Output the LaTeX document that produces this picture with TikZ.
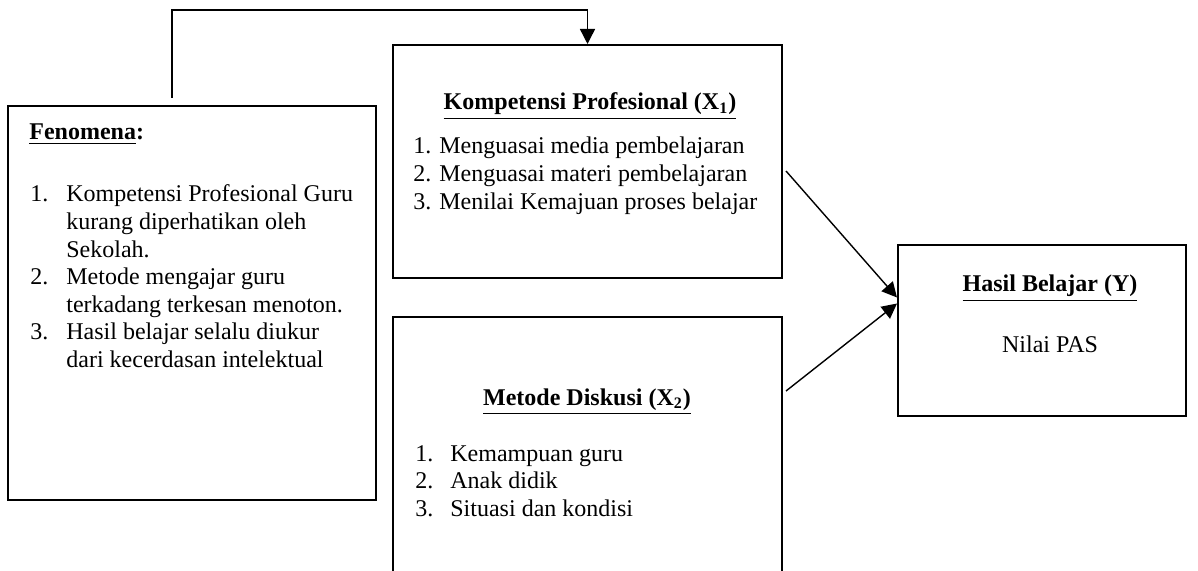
\documentclass[tikz,border=0pt]{standalone}
\usepackage{fontspec}
\setmainfont{Liberation Serif}
\usetikzlibrary{arrows.meta,calc}
\begin{document}
\begin{tikzpicture}[x=0.5pt,y=-0.5pt,
  box/.style={draw,line width=1pt,inner sep=0pt,rectangle},
  conn/.style={line width=0.7pt},
  tipA/.style={-{Triangle[length=7.5pt,width=7.5pt]}},
  txt/.style={inner sep=0pt,font=\fontsize{12}{13.8}\selectfont}]
\clip (0,0) rectangle (1198,571);
% boxes
\node[box,minimum width=184pt,minimum height=197pt] (fen) at (192,303) {};
\node[box,minimum width=194.5pt,minimum height=116.5pt] (komp) at (587.5,161.5) {};
\node[box,minimum width=194.5pt,minimum height=141.5pt] (met) at (587.5,458.5) {};
\node[box,minimum width=144pt,minimum height=85.5pt] (has) at (1042,330.5) {};
% texts: Fenomena
\node[txt,anchor=base west] (fent) at (29,140) {\underline{\textbf{Fenomena}}\textbf{:}};
\node[txt,anchor=base west] (fenl) at (30,202) {\begin{tabular}[t]{@{}p{18pt}@{}l@{}}
1. & Kompetensi Profesional Guru\\
   & kurang diperhatikan oleh\\
   & Sekolah.\\
2. & Metode mengajar guru\\
   & terkadang terkesan menoton.\\
3. & Hasil belajar selalu diukur\\
   & dari kecerdasan intelektual
\end{tabular}};
% Kompetensi
\node[txt,anchor=base] (kt) at (590,110) {\underline{\textbf{Kompetensi Profesional (X\textsubscript{1})}}};
\node[txt,anchor=base west] (kl) at (413,154) {\begin{tabular}[t]{@{}l@{}}
1. Menguasai media pembelajaran\\
2. Menguasai materi pembelajaran\\
3. Menilai Kemajuan proses belajar
\end{tabular}};
% Metode
\node[txt,anchor=base] (mt) at (587,405) {\underline{\textbf{Metode Diskusi (X\textsubscript{2})}}};
\node[txt,anchor=base west] (ml) at (415,461) {\begin{tabular}[t]{@{}p{17.5pt}@{}l@{}}
1. & Kemampuan guru\\
2. & Anak didik\\
3. & Situasi dan kondisi
\end{tabular}};
% Hasil
\node[txt,anchor=base] (ht) at (1050,292) {\underline{\textbf{Hasil Belajar (Y)}}};
\node[txt,anchor=base] (hn) at (1050,352) {Nilai PAS};
% connectors
\coordinate (s) at (172,98);
\coordinate (turn) at (172,10);
\draw[conn,tipA] (s) -- (turn) -| (komp.north);
\coordinate (ks) at ($(komp.north east)+(3,127)$);
\coordinate (ms) at ($(met.north east)+(3,75)$);
\draw[conn,tipA] (ks) -- ($(has.west)+(0,-33)$);
\draw[conn,tipA] (ms) -- ($(has.west)+(0,-27)$);
\end{tikzpicture}
\end{document}
